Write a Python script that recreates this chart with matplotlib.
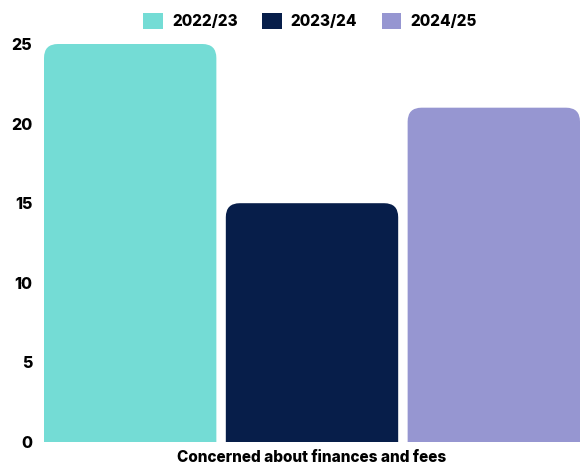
import matplotlib
matplotlib.use("Agg")
import matplotlib.pyplot as plt
from matplotlib.patches import PathPatch, Patch
from matplotlib.path import Path

years = ["2022/23", "2023/24", "2024/25"]
values = [25, 15, 21]
colors = ["#74DCD5", "#071E4A", "#9696D1"]
category = "Concerned about finances and fees"
yticks = [0, 5, 10, 15, 20, 25]

plt.rcParams['font.family'] = ['Inter', 'DejaVu Sans']
plt.rcParams['font.weight'] = 'heavy'


def top_rounded(left, width, height, rx, ry):
    # bar outline with rounded top corners and a square base
    right = left + width
    verts = [(left, 0), (left, height - ry), (left, height), (left + rx, height),
             (right - rx, height), (right, height), (right, height - ry),
             (right, 0), (left, 0)]
    codes = [Path.MOVETO, Path.LINETO, Path.CURVE3, Path.CURVE3,
             Path.LINETO, Path.CURVE3, Path.CURVE3, Path.LINETO, Path.CLOSEPOLY]
    return Path(verts, codes)


W, H = 587, 467
fig = plt.figure(figsize=(W / 100, H / 100), dpi=100)
ax_l, ax_r, ax_t, ax_b = 44, 580, 44, 442
ax = fig.add_axes([ax_l / W, 1 - ax_b / H, (ax_r - ax_l) / W, (ax_b - ax_t) / H])

width = 0.948
xs = list(range(len(values)))
ax.set_xlim(-width / 2, xs[-1] + width / 2)
ax.set_ylim(0, 25)

# pixels per data unit so the corners stay circular
px_x = (ax_r - ax_l) / (ax.get_xlim()[1] - ax.get_xlim()[0])
px_y = (ax_b - ax_t) / 25
rad = 14

for x, v, c in zip(xs, values, colors):
    ax.add_patch(PathPatch(top_rounded(x - width / 2, width, v, rad / px_x, rad / px_y),
                           fc=c, ec="none"))

ax.set_yticks(yticks)
ax.set_yticklabels([str(t) for t in yticks], fontsize=11.5, fontweight='heavy')
ax.set_xticks([])
ax.tick_params(axis='y', length=0, pad=8.5)
for s in ax.spines.values():
    s.set_visible(False)

ax.set_xlabel(category, fontsize=11, fontweight='heavy', labelpad=6)

handles = [Patch(fc=c, ec="none") for c in colors]
fig.legend(handles, years, loc='center', bbox_to_anchor=(310 / W, 1 - 21 / H),
           ncol=3, frameon=False, prop={'size': 11, 'weight': 'heavy'},
           handlelength=1.28, handleheight=1.28, handletextpad=0.59,
           columnspacing=1.6, borderpad=0)

fig.savefig("out.png", dpi=100)
